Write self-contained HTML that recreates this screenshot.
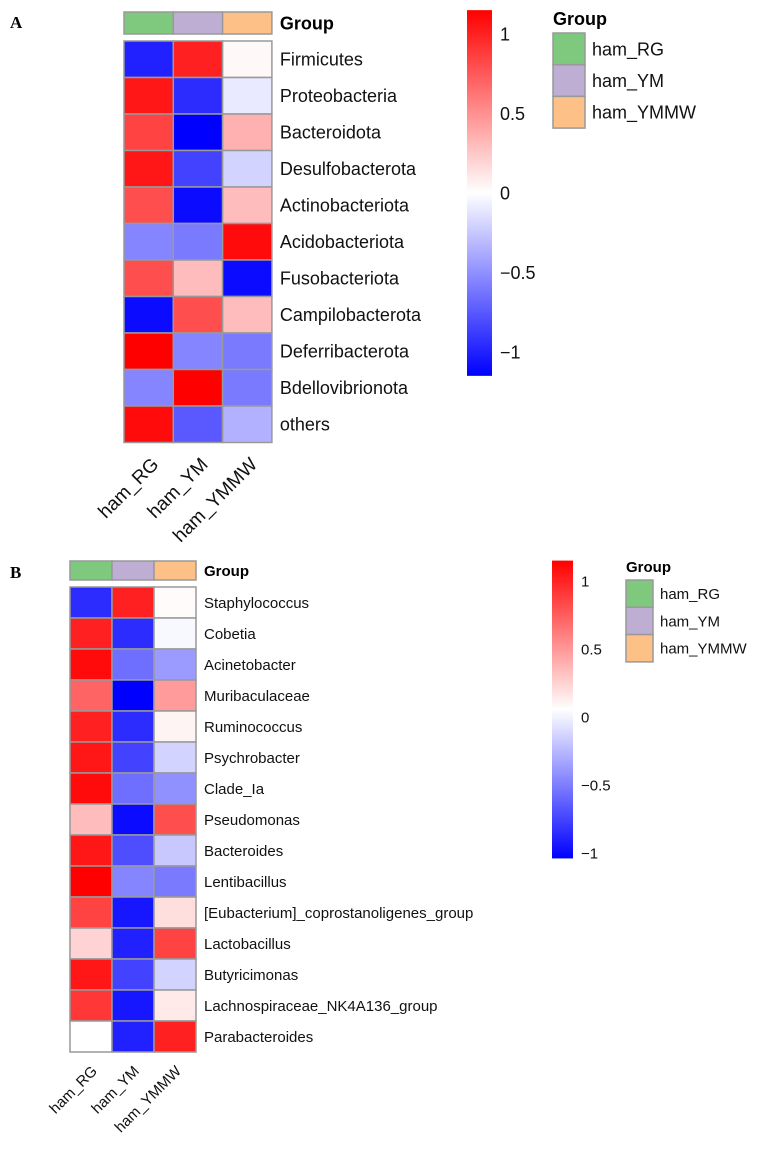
<!DOCTYPE html>
<html><head><meta charset="utf-8"><style>
body{margin:0;background:#fff;}
svg{display:block;font-family:"Liberation Sans",sans-serif;}
</style></head><body>
<svg id="s" width="772" height="1152"></svg>
<script>
const groups=["ham_RG","ham_YM","ham_YMMW"];
const groupColors=["#7fc97f","#beaed4","#fdc086"];
const rowsA=["Firmicutes","Proteobacteria","Bacteroidota","Desulfobacterota","Actinobacteriota","Acidobacteriota","Fusobacteriota","Campilobacterota","Deferribacterota","Bdellovibrionota","others"];
const valsA=[[-1.0,1.0,0.03],[1.05,-0.95,-0.1],[0.85,-1.15,0.35],[1.05,-0.85,-0.2],[0.8,-1.1,0.3],[-0.55,-0.6,1.1],[0.8,0.3,-1.1],[-1.1,0.8,0.3],[1.15,-0.55,-0.6],[-0.55,1.15,-0.6],[1.1,-0.75,-0.35]];
const rowsB=["Staphylococcus","Cobetia","Acinetobacter","Muribaculaceae","Ruminococcus","Psychrobacter","Clade_Ia","Pseudomonas","Bacteroides","Lentibacillus","[Eubacterium]_coprostanoligenes_group","Lactobacillus","Butyricimonas","Lachnospiraceae_NK4A136_group","Parabacteroides"];
const valsB=[[-0.95,1.0,0.02],[1.0,-0.95,-0.03],[1.1,-0.65,-0.45],[0.7,-1.15,0.45],[1.0,-0.95,0.05],[1.05,-0.85,-0.2],[1.1,-0.65,-0.5],[0.3,-1.1,0.8],[1.05,-0.8,-0.25],[1.15,-0.55,-0.6],[0.85,-1.05,0.15],[0.2,-1.0,0.85],[1.05,-0.85,-0.2],[0.9,-1.05,0.1],[0.0,-1.0,1.0]];
const ticks=[1,0.5,0,-0.5,-1];
const tickLabels=["1","0.5","0","\u22120.5","\u22121"];
const S=document.getElementById('s');const NS="http://www.w3.org/2000/svg";
function el(t,a,txt){const e=document.createElementNS(NS,t);for(const k in a)e.setAttribute(k,a[k]);if(txt!==undefined)e.textContent=txt;S.appendChild(e);return e;}
function col(v){const m=1.15;let t=Math.max(-1,Math.min(1,v/m));let r,g,b;if(t>=0){r=255;g=b=Math.round(255*(1-t));}else{b=255;r=g=Math.round(255*(1+t));}return `rgb(${r},${g},${b})`;}
function panel(o,rows,vals,letter){
 let e=el('text',{x:10,y:o.ly,'font-family':'Liberation Serif,serif','font-weight':'bold','font-size':17},letter);
 
 groups.forEach((g,j)=>{e=el('rect',{x:o.x+j*o.cw,y:o.gy,width:o.cw,height:o.gh,fill:groupColors[j],stroke:'#999','stroke-width':1.5});
  });
 e=el('text',{x:o.x+3*o.cw+8,y:o.gy+o.gh/2+o.fs*0.36,'font-weight':'bold','font-size':o.fs},'Group');
 
 rows.forEach((r,i)=>{const y=o.hy+i*o.rh;
  vals[i].forEach((v,j)=>{e=el('rect',{x:o.x+j*o.cw,y:y,width:o.cw,height:o.rh,fill:col(v),stroke:'#999','stroke-width':1.5});
   });
  e=el('text',{x:o.x+3*o.cw+8,y:y+o.rh/2+o.fs*0.36,'font-size':o.fs,fill:'#111'},r);
  });
 const by=o.hy+rows.length*o.rh;
 groups.forEach((g,j)=>{const cx=o.x+j*o.cw+o.cw/2+o.ox,cy=by+o.oy;
  e=el('text',{x:cx,y:cy,'font-size':o.cfs,'text-anchor':'end',transform:`rotate(-45 ${cx} ${cy})`,fill:'#111'},g);
  });
 const gid='grad'+letter;const d=document.createElementNS(NS,'defs');d.innerHTML=`<linearGradient id="${gid}" x1="0" y1="0" x2="0" y2="1"><stop offset="0" stop-color="#f00"/><stop offset="0.5" stop-color="#fff"/><stop offset="1" stop-color="#00f"/></linearGradient>`;S.appendChild(d);
 const cy0=o.c0,sc=o.cs,top=cy0-1.15*sc;
 e=el('rect',{x:o.cx,y:top,width:o.cbw,height:(cy0+o.cmin*sc)-top,fill:`url(#${gid})`});
 
 ticks.forEach((t,i)=>{e=el('text',{x:o.cx+o.cbw+8,y:cy0-t*sc+o.fs*0.36,'font-size':o.fs,fill:'#111'},tickLabels[i]);
  });
 e=el('text',{x:o.lx,y:o.lty,'font-weight':'bold','font-size':o.fs},'Group');
 
 groups.forEach((g,j)=>{e=el('rect',{x:o.lx,y:o.lby+j*o.lh,width:o.lw,height:o.lh,fill:groupColors[j],stroke:'#999','stroke-width':1.5});
  
  e=el('text',{x:o.lx+o.lw+7,y:o.lby+j*o.lh+o.lh/2+o.fs*0.36,'font-size':o.fs,fill:'#111'},g);
  });
}
panel({ly:28,x:124,cw:49.3,gy:12,gh:22,hy:41,rh:36.5,fs:18,cfs:19,ox:11,oy:23,cx:467,cbw:25,c0:193,cs:159,cmin:1.15,lx:553,lty:25,lby:33,lh:31.7,lw:32},rowsA,valsA,'A');
panel({ly:578,x:70,cw:42,gy:561,gh:19,hy:587,rh:31,fs:15,cfs:15,ox:7,oy:20,cx:552,cbw:21,c0:717,cs:136,cmin:1.04,lx:626,lty:572,lby:580,lh:27.3,lw:27},rowsB,valsB,'B');
</script>
</body></html>
